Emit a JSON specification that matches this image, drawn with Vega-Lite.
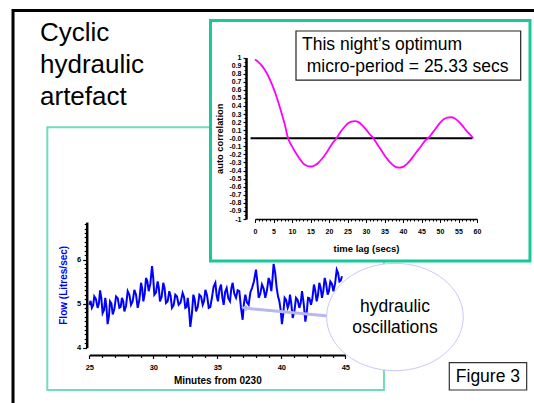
{
  "$schema": "https://vega.github.io/schema/vega-lite/v6.json",
  "width": 534,
  "height": 403,
  "autosize": {"type": "none"},
  "padding": 0,
  "background": "white",
  "config": {
    "view": {"stroke": null},
    "font": "Liberation Sans",
    "axis": {"grid": false, "tickCount": 200, "labelFont": "Liberation Sans", "titleFont": "Liberation Sans", "minExtent": 0, "labelColor": "black", "titleColor": "black", "tickColor": "black", "domainColor": "black", "labelFlush": false, "labelOverlap": false, "labelBound": false, "labelSeparation": 0}
  },
  "datasets": {
    "flow": [
      {"m":25.00,"f":4.97},{"m":25.10,"f":5.06},{"m":25.20,"f":4.90},{"m":25.30,"f":4.96},{"m":25.39,"f":5.16},{"m":25.52,"f":5.10},{"m":25.65,"f":4.90},{"m":25.75,"f":5.00},{"m":25.84,"f":5.30},{"m":25.94,"f":5.12},
      {"m":26.04,"f":4.78},{"m":26.15,"f":4.85},{"m":26.25,"f":5.13},{"m":26.34,"f":4.92},{"m":26.43,"f":4.53},{"m":26.53,"f":4.70},{"m":26.62,"f":5.05},{"m":26.73,"f":5.00},{"m":26.83,"f":4.75},{"m":26.96,"f":4.88},
      {"m":27.09,"f":5.16},{"m":27.22,"f":5.12},{"m":27.35,"f":4.90},{"m":27.45,"f":4.92},{"m":27.55,"f":5.13},{"m":27.65,"f":5.05},{"m":27.74,"f":4.82},{"m":27.87,"f":4.95},{"m":28.00,"f":5.28},{"m":28.13,"f":5.20},
      {"m":28.26,"f":4.97},{"m":28.39,"f":5.05},{"m":28.52,"f":5.31},{"m":28.65,"f":5.20},{"m":28.78,"f":4.90},{"m":28.91,"f":5.08},{"m":29.04,"f":5.47},{"m":29.13,"f":5.35},{"m":29.22,"f":5.05},{"m":29.33,"f":5.22},
      {"m":29.43,"f":5.58},{"m":29.54,"f":5.50},{"m":29.64,"f":5.28},{"m":29.77,"f":5.45},{"m":29.90,"f":5.85},{"m":29.99,"f":5.60},{"m":30.08,"f":5.20},{"m":30.21,"f":5.25},{"m":30.34,"f":5.50},{"m":30.43,"f":5.36},
      {"m":30.52,"f":5.05},{"m":30.65,"f":5.15},{"m":30.78,"f":5.47},{"m":30.88,"f":5.35},{"m":30.99,"f":5.01},{"m":31.12,"f":5.05},{"m":31.25,"f":5.28},{"m":31.35,"f":5.18},{"m":31.46,"f":4.90},{"m":31.59,"f":4.96},
      {"m":31.72,"f":5.20},{"m":31.85,"f":5.16},{"m":31.98,"f":4.97},{"m":32.13,"f":5.02},{"m":32.29,"f":5.24},{"m":32.40,"f":5.15},{"m":32.50,"f":4.90},{"m":32.60,"f":4.92},{"m":32.69,"f":5.13},{"m":32.79,"f":4.88},
      {"m":32.89,"f":4.47},{"m":33.01,"f":4.75},{"m":33.13,"f":5.20},{"m":33.23,"f":5.10},{"m":33.34,"f":4.82},{"m":33.47,"f":4.92},{"m":33.60,"f":5.20},{"m":33.73,"f":5.16},{"m":33.86,"f":4.97},{"m":33.96,"f":5.05},
      {"m":34.07,"f":5.31},{"m":34.20,"f":5.18},{"m":34.33,"f":4.90},{"m":34.45,"f":4.92},{"m":34.58,"f":5.13},{"m":34.71,"f":5.38},{"m":34.85,"f":5.47},{"m":34.95,"f":5.18},{"m":35.05,"f":5.05},{"m":35.17,"f":5.32},
      {"m":35.29,"f":5.43},{"m":35.40,"f":5.12},{"m":35.50,"f":4.97},{"m":35.61,"f":5.26},{"m":35.73,"f":5.35},{"m":35.86,"f":5.12},{"m":35.99,"f":5.05},{"m":36.10,"f":5.35},{"m":36.20,"f":5.47},{"m":36.33,"f":5.22},
      {"m":36.46,"f":5.13},{"m":36.59,"f":5.30},{"m":36.72,"f":5.28},{"m":36.85,"f":4.90},{"m":36.98,"f":4.63},{"m":37.08,"f":5.00},{"m":37.19,"f":5.20},{"m":37.32,"f":5.02},{"m":37.45,"f":4.97},{"m":37.58,"f":5.25},
      {"m":37.71,"f":5.35},{"m":37.86,"f":5.50},{"m":38.02,"f":5.77},{"m":38.12,"f":5.52},{"m":38.23,"f":5.13},{"m":38.36,"f":5.22},{"m":38.49,"f":5.43},{"m":38.62,"f":5.34},{"m":38.75,"f":5.13},{"m":38.88,"f":5.30},
      {"m":39.01,"f":5.58},{"m":39.11,"f":5.50},{"m":39.22,"f":5.28},{"m":39.31,"f":5.55},{"m":39.40,"f":5.90},{"m":39.52,"f":5.70},{"m":39.64,"f":5.35},{"m":39.75,"f":5.15},{"m":39.85,"f":5.05},{"m":39.95,"f":4.85},
      {"m":40.05,"f":4.53},{"m":40.15,"f":4.75},{"m":40.26,"f":5.13},{"m":40.38,"f":5.08},{"m":40.50,"f":4.90},{"m":40.59,"f":4.98},{"m":40.68,"f":5.20},{"m":40.78,"f":5.00},{"m":40.89,"f":4.67},{"m":41.02,"f":4.82},
      {"m":41.15,"f":5.13},{"m":41.28,"f":5.08},{"m":41.41,"f":4.90},{"m":41.52,"f":5.02},{"m":41.62,"f":5.28},{"m":41.75,"f":5.00},{"m":41.88,"f":4.59},{"m":41.98,"f":4.78},{"m":42.09,"f":5.13},{"m":42.20,"f":5.12},
      {"m":42.32,"f":4.97},{"m":42.43,"f":5.12},{"m":42.55,"f":5.43},{"m":42.65,"f":5.30},{"m":42.76,"f":5.05},{"m":42.86,"f":5.18},{"m":42.97,"f":5.47},{"m":43.07,"f":5.36},{"m":43.18,"f":5.13},{"m":43.28,"f":5.28},
      {"m":43.39,"f":5.58},{"m":43.50,"f":5.45},{"m":43.62,"f":5.20},{"m":43.72,"f":5.28},{"m":43.83,"f":5.50},{"m":43.95,"f":5.45},{"m":44.07,"f":5.28},{"m":44.20,"f":5.45},{"m":44.33,"f":5.77},{"m":44.43,"f":5.70},
      {"m":44.54,"f":5.50},{"m":44.64,"f":5.52},{"m":44.74,"f":5.62}
    ],
    "acf": [
      {"lag":0,"r":0.975},{"lag":1,"r":0.94},{"lag":2,"r":0.89},{"lag":3,"r":0.82},{"lag":4,"r":0.73},{"lag":5,"r":0.62},{"lag":6,"r":0.49},{"lag":7,"r":0.34},{"lag":8,"r":0.18},{"lag":9,"r":-0.01},
      {"lag":10,"r":-0.10},{"lag":11,"r":-0.18},{"lag":12,"r":-0.25},{"lag":13,"r":-0.31},{"lag":14,"r":-0.34},{"lag":15,"r":-0.35},{"lag":16,"r":-0.34},{"lag":17,"r":-0.31},{"lag":18,"r":-0.26},{"lag":19,"r":-0.20},
      {"lag":20,"r":-0.13},{"lag":21,"r":-0.06},{"lag":22,"r":0.00},{"lag":23,"r":0.07},{"lag":24,"r":0.13},{"lag":25,"r":0.18},{"lag":26,"r":0.205},{"lag":27,"r":0.213},{"lag":28,"r":0.20},{"lag":29,"r":0.16},
      {"lag":30,"r":0.11},{"lag":31,"r":0.05},{"lag":32,"r":0.00},{"lag":33,"r":-0.07},{"lag":34,"r":-0.14},{"lag":35,"r":-0.21},{"lag":36,"r":-0.27},{"lag":37,"r":-0.32},{"lag":38,"r":-0.355},{"lag":39,"r":-0.365},
      {"lag":40,"r":-0.355},{"lag":41,"r":-0.32},{"lag":42,"r":-0.27},{"lag":43,"r":-0.21},{"lag":44,"r":-0.15},{"lag":45,"r":-0.09},{"lag":46,"r":-0.03},{"lag":47,"r":0.01},{"lag":48,"r":0.07},{"lag":49,"r":0.13},
      {"lag":50,"r":0.19},{"lag":51,"r":0.235},{"lag":52,"r":0.255},{"lag":53,"r":0.26},{"lag":54,"r":0.245},{"lag":55,"r":0.21},{"lag":56,"r":0.16},{"lag":57,"r":0.10},{"lag":58,"r":0.05},{"lag":59,"r":0.00}
    ],
    "one": [{"k": 1}]
  },
  "layer": [
    {
      "data": {"name": "one"},
      "layer": [
        {
          "mark": {"type": "rect", "fillOpacity": 0, "stroke": "#000000", "strokeWidth": 3},
          "encoding": {
            "x": {"datum": 19.04, "type": "quantitative", "scale": {"domain": [25, 45], "range": [89.3, 345.3], "nice": false, "zero": false}},
            "x2": {"datum": 60.6},
            "y": {"datum": 11.66, "type": "quantitative", "scale": {"domain": [4, 6.85], "range": [347.5, 222.1], "nice": false, "zero": false}},
            "y2": {"datum": 2.466}
          }
        },
        {
          "mark": {"type": "text", "align": "left", "baseline": "top", "fontSize": 26, "lineHeight": 31.7, "font": "Liberation Sans", "color": "#000000"},
          "encoding": {
            "x": {"datum": 21.15, "type": "quantitative"},
            "y": {"datum": 11.432, "type": "quantitative"},
            "text": {"value": ["Cyclic", "hydraulic", "artefact"]}
          }
        },
        {
          "mark": {"type": "rect", "fillOpacity": 0, "stroke": "#6fdcc0", "strokeWidth": 2},
          "encoding": {
            "x": {"datum": 21.72, "type": "quantitative"},
            "x2": {"datum": 48.02},
            "y": {"datum": 9.005, "type": "quantitative"},
            "y2": {"datum": 3.034}
          }
        },
        {
          "data": {"name": "flow"},
          "mark": {"type": "line", "color": "#0000ff", "strokeWidth": 2},
          "encoding": {
            "x": {
              "field": "m", "type": "quantitative",
              "scale": {"domain": [25, 45], "range": [89.3, 345.3], "nice": false, "zero": false},
              "axis": {
                "orient": "bottom", "offset": -48, "zindex": 0,
                "values": [25, 30, 35, 40, 45],
                "labelExpr": "'' + datum.value",
                "tickSize": 3.5, "tickWidth": 1.2, "domainWidth": 2,
                "labelFontSize": 7.5, "labelFontWeight": "bold", "labelPadding": 5,
                "title": "Minutes from 0230", "titleFontSize": 10, "titleFontWeight": "bold", "titlePadding": 4
              }
            },
            "y": {
              "field": "f", "type": "quantitative",
              "scale": {"domain": [4, 6.85], "range": [347.5, 222.1], "nice": false, "zero": false},
              "axis": {
                "orient": "left", "offset": -86.7, "zindex": 0,
                "values": [4, 5, 6],
                "labelExpr": "'' + datum.value",
                "tickSize": 4, "tickWidth": 1.2, "domainWidth": 2.5,
                "labelFontSize": 7.5, "labelFontWeight": "bold", "labelPadding": 2,
                "title": "Flow (Litres/sec)", "titleColor": "#0000ff", "titleFontSize": 10, "titleFontWeight": "bold", "titlePadding": 8
              }
            }
          }
        },
        {
          "mark": {"type": "rule", "color": "#b8b8f0", "strokeWidth": 3, "opacity": 1},
          "encoding": {
            "x": {"datum": 43.65, "type": "quantitative"},
            "x2": {"datum": 37.3},
            "y": {"datum": 4.716, "type": "quantitative"},
            "y2": {"datum": 4.89}
          }
        },
        {
          "mark": {"type": "point", "shape": "triangle-left", "filled": true, "color": "#b8b8f0", "opacity": 1, "size": 45, "angle": 5.6},
          "encoding": {
            "x": {"datum": 37.1, "type": "quantitative"},
            "y": {"datum": 4.9, "type": "quantitative"}
          }
        },
        {
          "mark": {"type": "point", "shape": "M -1 0 C -1 -0.434 -0.552 -0.786 0 -0.786 C 0.552 -0.786 1 -0.434 1 0 C 1 0.434 0.552 0.786 0 0.786 C -0.552 0.786 -1 0.434 -1 0 Z", "filled": true, "fill": "#ffffff", "fillOpacity": 1, "stroke": "#c8c8fa", "strokeWidth": 1, "opacity": 1, "size": 18660},
          "encoding": {
            "x": {"datum": 48.88, "type": "quantitative"},
            "y": {"datum": 4.693, "type": "quantitative"}
          }
        },
        {
          "mark": {"type": "text", "align": "center", "baseline": "top", "fontSize": 17.5, "lineHeight": 21, "font": "Liberation Sans", "color": "#000000"},
          "encoding": {
            "x": {"datum": 48.88, "type": "quantitative"},
            "y": {"datum": 5.127, "type": "quantitative"},
            "text": {"value": ["hydraulic", "oscillations"]}
          }
        },
        {
          "mark": {"type": "rect", "fill": "#ffffff", "stroke": "#333333", "strokeWidth": 1.2},
          "encoding": {
            "x": {"datum": 53.125, "type": "quantitative"},
            "x2": {"datum": 59.17},
            "y": {"datum": 3.655, "type": "quantitative"},
            "y2": {"datum": 3.034}
          }
        },
        {
          "mark": {"type": "text", "align": "center", "baseline": "top", "fontSize": 17.5, "font": "Liberation Sans", "color": "#000000"},
          "encoding": {
            "x": {"datum": 56.14, "type": "quantitative"},
            "y": {"datum": 3.536, "type": "quantitative"},
            "text": {"value": "Figure 3"}
          }
        }
      ]
    },
    {
      "data": {"name": "flow"},
      "mark": {"type": "line", "opacity": 0},
      "encoding": {
        "x": {
          "field": "m", "type": "quantitative",
          "scale": {"domain": [25, 45], "range": [89.3, 345.3], "nice": false, "zero": false},
          "axis": {"orient": "bottom", "offset": -48, "zindex": 0, "values": [26,27,28,29,31,32,33,34,36,37,38,39,41,42,43,44], "labels": false, "domain": false, "tickSize": 2.5, "tickWidth": 1.2, "title": null}
        },
        "y": {
          "field": "f", "type": "quantitative",
          "scale": {"domain": [4, 6.85], "range": [347.5, 222.1], "nice": false, "zero": false},
          "axis": {"orient": "left", "offset": -86.7, "zindex": 0, "values": [4.1,4.2,4.3,4.4,4.5,4.6,4.7,4.8,4.9,5.1,5.2,5.3,5.4,5.5,5.6,5.7,5.8,5.9,6.1,6.2,6.3,6.4,6.5,6.6,6.7,6.8], "labels": false, "domain": false, "tickSize": 2.5, "tickWidth": 1.2, "title": null}
        }
      }
    },
    {
      "data": {"name": "one"},
      "layer": [
        {
          "mark": {"type": "rect", "fill": "#ffffff", "stroke": "#19c89a", "strokeWidth": 3},
          "encoding": {
            "x": {"datum": -12.03, "type": "quantitative", "scale": {"domain": [0, 60], "range": [255, 477], "nice": false, "zero": false}},
            "x2": {"datum": 74.32},
            "y": {"datum": 1.458, "type": "quantitative", "scale": {"domain": [-1, 1], "range": [219, 57.5], "nice": false, "zero": false}},
            "y2": {"datum": -1.52}
          }
        },
        {
          "mark": {"type": "rect", "fill": "#ffffff", "stroke": "#222222", "strokeWidth": 1.2},
          "encoding": {
            "x": {"datum": 11.08, "type": "quantitative"},
            "x2": {"datum": 71.81},
            "y": {"datum": 1.328, "type": "quantitative"},
            "y2": {"datum": 0.721}
          }
        },
        {
          "mark": {"type": "text", "align": "left", "baseline": "top", "fontSize": 17.5, "font": "Liberation Sans", "color": "#000000"},
          "encoding": {
            "x": {"datum": 12.7, "type": "quantitative"},
            "y": {"datum": 1.2637, "type": "quantitative"},
            "text": {"value": "This night’s optimum"}
          }
        },
        {
          "mark": {"type": "text", "align": "left", "baseline": "top", "fontSize": 17.5, "font": "Liberation Sans", "color": "#000000"},
          "encoding": {
            "x": {"datum": 13.97, "type": "quantitative"},
            "y": {"datum": 0.995, "type": "quantitative"},
            "text": {"value": "micro-period = 25.33 secs"}
          }
        },
        {
          "mark": {"type": "rule", "color": "#000000", "strokeWidth": 2},
          "encoding": {
            "x": {"datum": -1.2, "type": "quantitative"},
            "x2": {"datum": 58.8},
            "y": {"datum": 0, "type": "quantitative"}
          }
        },
        {
          "data": {"name": "acf"},
          "mark": {"type": "line", "color": "#ff00ff", "strokeWidth": 1.8, "interpolate": "monotone"},
          "encoding": {
            "x": {
              "field": "lag", "type": "quantitative",
              "scale": {"domain": [0, 60], "range": [255, 477], "nice": false, "zero": false},
              "axis": {
                "orient": "bottom", "offset": -184, "zindex": 1, "tickCount": 200,
                "values": [0,5,10,15,20,25,30,35,40,45,50,55,60],
                "labelExpr": "'' + datum.value",
                "tickSize": 3.5, "tickWidth": 1, "domainWidth": 1.5,
                "labelFontSize": 7, "labelFontWeight": "bold", "labelPadding": 5,
                "title": "time lag (secs)", "titleFontSize": 9.5, "titleFontWeight": "bold", "titlePadding": 9
              }
            },
            "y": {
              "field": "r", "type": "quantitative",
              "scale": {"domain": [-1, 1], "range": [219, 57.5], "nice": false, "zero": false},
              "axis": {
                "orient": "left", "offset": -246, "zindex": 1, "tickCount": 200,
                "values": [-1,-0.9,-0.8,-0.7,-0.6,-0.5,-0.4,-0.3,-0.2,-0.1,0,0.1,0.2,0.3,0.4,0.5,0.6,0.7,0.8,0.9,1],
                "labelExpr": "datum.value === 0 ? '-0.0' : '' + datum.value",
                "tickSize": 3, "tickWidth": 1.2, "domainWidth": 2.5,
                "labelFontSize": 7, "labelFontWeight": "bold", "labelPadding": 2,
                "title": "auto correlation", "titleFontSize": 9.3, "titleFontWeight": "bold", "titlePadding": 4.5
              }
            }
          }
        }
      ]
    },
    {
      "data": {"name": "acf"},
      "mark": {"type": "line", "opacity": 0},
      "encoding": {
        "x": {
          "field": "lag", "type": "quantitative",
          "scale": {"domain": [0, 60], "range": [255, 477], "nice": false, "zero": false},
          "axis": {"orient": "bottom", "offset": -184, "zindex": 1, "tickCount": 200, "values": [1,2,3,4,6,7,8,9,11,12,13,14,16,17,18,19,21,22,23,24,26,27,28,29,31,32,33,34,36,37,38,39,41,42,43,44,46,47,48,49,51,52,53,54,56,57,58,59], "labels": false, "domain": false, "tickSize": 2, "tickWidth": 1, "title": null}
        },
        "y": {
          "field": "r", "type": "quantitative",
          "scale": {"domain": [-1, 1], "range": [219, 57.5], "nice": false, "zero": false},
          "axis": {"orient": "left", "offset": -246, "zindex": 1, "tickCount": 200, "values": [-0.95,-0.85,-0.75,-0.65,-0.55,-0.45,-0.35,-0.25,-0.15,-0.05,0.05,0.15,0.25,0.35,0.45,0.55,0.65,0.75,0.85,0.95], "labels": false, "domain": false, "tickSize": 2, "tickWidth": 1, "title": null}
        }
      }
    }
  ],
  "resolve": {"scale": {"x": "independent", "y": "independent"}, "axis": {"x": "independent", "y": "independent"}}
}
